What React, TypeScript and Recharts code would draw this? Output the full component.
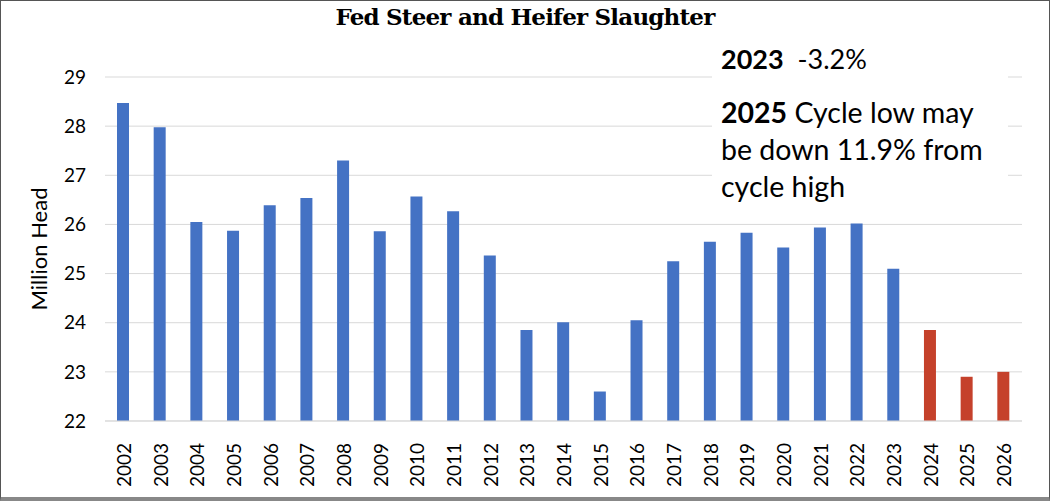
import React from 'react'
import { BarChart, Bar, XAxis, YAxis, CartesianGrid, Cell } from 'recharts'

const years = [
  '2002', '2003', '2004', '2005', '2006', '2007', '2008', '2009', '2010', '2011', '2012', '2013',
  '2014', '2015', '2016', '2017', '2018', '2019', '2020', '2021', '2022', '2023', '2024', '2025', '2026',
]
const slaughter = [
  28.47, 27.98, 26.05, 25.87, 26.39, 26.54, 27.3, 25.86, 26.57, 26.27, 25.37, 23.85,
  24.01, 22.6, 24.05, 25.25, 25.65, 25.83, 25.53, 25.94, 26.02, 25.1, 23.85, 22.9, 23.0,
]
const forecastYears = ['2024', '2025', '2026']
const yTicks = [22, 23, 24, 25, 26, 27, 28, 29]

const data = years.map((year, i) => ({ year, value: slaughter[i] }))

const font = 'Lato, "Open Sans", sans-serif'

const YearTick = (props: any) => {
  const { x, y, payload } = props
  return (
    <g transform={`translate(${x},${y})`}>
      <text
        transform="rotate(-90)"
        x={-14}
        y={0}
        textAnchor="end"
        dominantBaseline="central"
        fontSize={19}
        fontFamily={font}
        fill="#000"
      >
        {payload.value}
      </text>
    </g>
  )
}

export default function App() {
  return (
    <div
      style={{
        position: 'absolute',
        left: 0,
        top: 0,
        width: 1050,
        height: 501,
        background: '#fff',
        boxSizing: 'border-box',
        borderTop: '1px solid #555',
        borderLeft: '1px solid #555',
        borderRight: '1px solid #555',
        borderBottom: '4px solid #888',
        overflow: 'hidden',
      }}
    >
      <BarChart
        width={1048}
        height={496}
        data={data}
        margin={{ top: 76, right: 27, bottom: 0, left: 0 }}
      >
        <CartesianGrid vertical={false} stroke="#d9d9d9" />
        <XAxis
          dataKey="year"
          interval={0}
          height={76}
          tick={<YearTick />}
          tickLine={false}
          axisLine={{ stroke: '#d9d9d9' }}
        />
        <YAxis
          domain={[22, 29]}
          ticks={yTicks}
          width={104}
          tickLine={false}
          axisLine={false}
          tickSize={0}
          tickMargin={19}
          tick={{ fontSize: 19, fontFamily: font, fill: '#000' }}
        />
        <Bar dataKey="value" barSize={12} isAnimationActive={false}>
          {data.map((d) => (
            <Cell key={d.year} fill={forecastYears.includes(d.year) ? '#C5412B' : '#4472C4'} />
          ))}
        </Bar>
      </BarChart>

      <div
        style={{
          position: 'absolute',
          top: 2,
          left: 0,
          width: 1048,
          textAlign: 'center',
          fontFamily: '"DejaVu Serif", serif',
          fontWeight: 'bold',
          fontSize: 23,
          letterSpacing: -0.8,
          color: '#000',
        }}
      >
        Fed Steer and Heifer Slaughter
      </div>

      <div
        style={{
          position: 'absolute',
          left: 37,
          top: 248,
          transform: 'translate(-50%, -50%) rotate(-90deg)',
          fontFamily: font,
          fontSize: 22,
          whiteSpace: 'nowrap',
          color: '#000',
        }}
      >
        Million Head
      </div>

      <div
        style={{
          position: 'absolute',
          left: 711,
          top: 38,
          width: 296,
          height: 176,
          background: '#fff',
          fontFamily: font,
          color: '#000',
          boxSizing: 'border-box',
          paddingLeft: 9,
        }}
      >
        <div style={{ fontSize: 27, marginTop: 3, whiteSpace: 'pre' }}>
          <b>2023</b>{'  -3.2%'}
        </div>
        <div style={{ fontSize: 28.5, lineHeight: '37px', marginTop: 19, whiteSpace: 'nowrap' }}>
          <b>2025</b> Cycle low may
          <br />
          be down 11.9% from
          <br />
          cycle high
        </div>
      </div>
    </div>
  )
}
